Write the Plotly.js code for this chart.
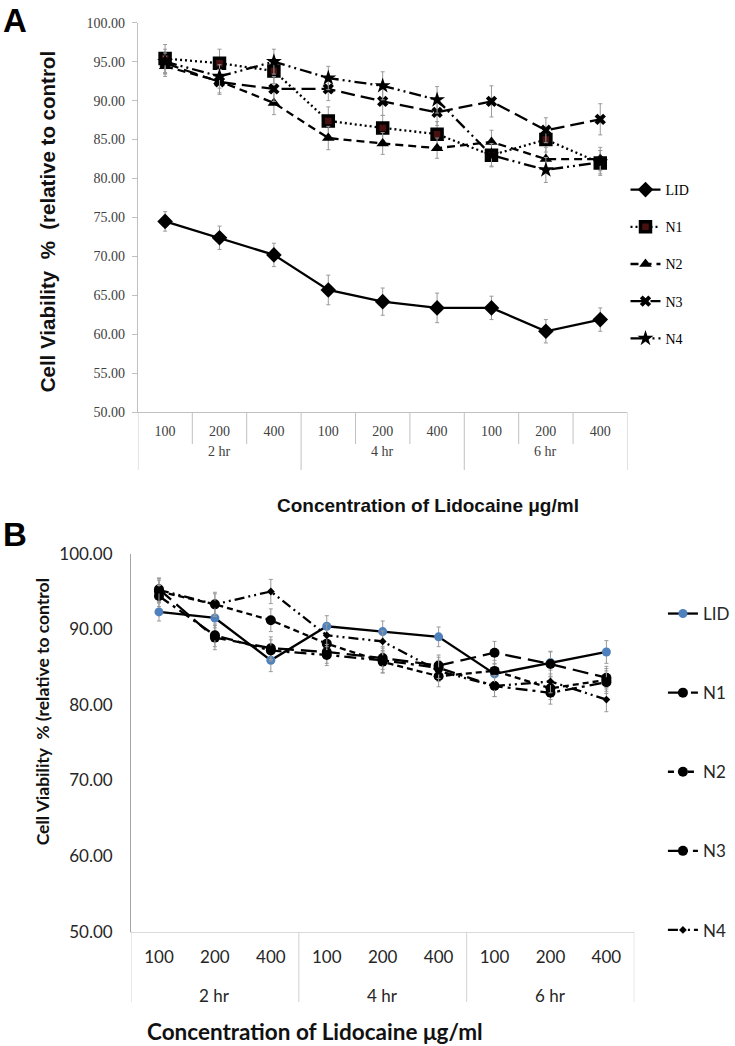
<!DOCTYPE html>
<html><head><meta charset="utf-8">
<script src="https://cdn.plot.ly/plotly-3.0.1.min.js"></script>
<style>html,body{margin:0;padding:0;background:#fff}#chart{width:735px;height:1046px}</style>
</head><body><div id="chart"></div>
<script>
// ---------- data ----------
const timeGroups = ['2 hr', '4 hr', '6 hr'];
const concentrations = ['100', '200', '400'];
const seriesNames = ['LID', 'N1', 'N2', 'N3', 'N4'];

// Panel A values (% viability)
const A_LID = [74.5, 72.4, 70.2, 65.7, 64.2, 63.4, 63.4, 60.4, 61.9];
const A_N1  = [95.4, 94.8, 93.8, 87.4, 86.5, 85.7, 83.0, 85.0, 82.0];
const A_N2  = [94.4, 92.5, 89.7, 85.2, 84.5, 83.9, 84.7, 82.5, 82.5];
const A_N3  = [94.8, 92.4, 91.5, 91.5, 89.9, 88.5, 89.9, 86.2, 87.6];
const A_N4  = [95.0, 93.1, 95.0, 92.9, 91.9, 90.1, 83.0, 81.1, 82.1];
// Panel A error bars
const A_LID_err = [1.25, 1.5, 1.5, 1.9, 1.75, 1.9, 1.5, 1.5, 1.5];
const A_N1_err  = [1.8, 1.8, 1.6, 1.8, 1.6, 1.6, 1.4, 1.6, 1.6];
const A_N2_err  = [1.3, 1.5, 1.5, 1.5, 1.4, 1.3, 1.5, 1.5, 1.5];
const A_N3_err  = [1.3, 1.6, 1.6, 1.5, 1.8, 1.7, 2.0, 1.6, 2.0];
const A_N4_err  = [1.6, 1.5, 1.6, 1.5, 1.8, 1.7, 1.5, 1.6, 1.5];

// Panel B values
const B_LID = [92.3, 91.5, 85.9, 90.4, 89.7, 89.0, 84.1, 85.6, 87.0];
const B_N1  = [95.3, 88.9, 87.5, 87.0, 86.2, 85.2, 86.9, 85.4, 83.6];
const B_N2  = [95.0, 93.3, 91.2, 88.1, 85.7, 83.8, 84.5, 82.2, 83.3];
const B_N3  = [94.4, 89.2, 87.2, 86.6, 85.9, 84.9, 82.5, 81.6, 83.0];
const B_N4  = [95.2, 93.3, 95.0, 89.2, 88.4, 84.5, 82.5, 83.1, 80.7];
// Panel B error bars
const B_LID_err = [1.2, 1.3, 1.5, 1.4, 1.4, 1.3, 1.4, 1.5, 1.5];
const B_N1_err  = [1.5, 1.6, 1.5, 1.5, 1.5, 1.4, 1.5, 1.6, 1.5];
const B_N2_err  = [1.5, 1.6, 1.5, 1.4, 1.5, 1.4, 1.4, 1.5, 1.5];
const B_N3_err  = [1.4, 1.5, 1.4, 1.4, 1.6, 1.4, 1.4, 1.5, 1.5];
const B_N4_err  = [1.5, 1.4, 1.6, 1.5, 1.4, 1.4, 1.4, 1.5, 1.6];

// ---------- helpers ----------
const W = 735, H = 1046;
const px = p => p / W;
const py = p => 1 - p / H;

const lvlTime = [], lvlConc = [];
timeGroups.forEach(g => concentrations.forEach(c => { lvlTime.push(g); lvlConc.push(c); }));
const catKeys = lvlTime.map((g, i) => g + ' · ' + lvlConc[i]);

const errStyle = (arr, w) => ({type: 'data', array: arr, visible: true, color: '#9a9a9a', thickness: 1, width: w});

function trA(name, y, err, dash, marker) {
  return {type: 'scatter', mode: 'lines+markers', name: name, x: catKeys, y: y,
    xaxis: 'x', yaxis: 'y', legend: 'legend', legendgroup: 'A' + name,
    line: {color: '#000', width: 2.3, dash: dash}, marker: marker,
    error_y: errStyle(err, 2), cliponaxis: false};
}
function trB(name, y, err, dash, marker) {
  return {type: 'scatter', mode: 'lines+markers', name: name, x: catKeys, y: y,
    xaxis: 'x2', yaxis: 'y2', legend: 'legend2', legendgroup: 'B' + name,
    line: {color: '#000', width: 2.3, dash: dash}, marker: marker,
    error_y: errStyle(err, 2), cliponaxis: false};
}

const dataA = [
  trA(seriesNames[0], A_LID, A_LID_err, 'solid', {symbol: 'diamond', size: 12, color: '#000'}),
  trA(seriesNames[1], A_N1, A_N1_err, '2px,3px', {symbol: 'square', size: 10, color: '#4a1010', line: {color: '#000', width: 3.5}}),
  trA(seriesNames[2], A_N2, A_N2_err, '8px,5px', {symbol: 'triangle-up', size: 11, color: '#000'}),
  trA(seriesNames[3], A_N3, A_N3_err, '14px,6px', {symbol: 'x', size: 10, color: '#000'}),
  trA(seriesNames[4], A_N4, A_N4_err, '12px,4px,2px,4px,2px,4px', {symbol: 'star', size: 12, color: '#000'})
];
const dataB = [
  trB(seriesNames[0], B_LID, B_LID_err, 'solid', {symbol: 'circle', size: 9, color: '#4f81bd'}),
  trB(seriesNames[1], B_N1, B_N1_err, '16px,7px', {symbol: 'circle', size: 10, color: '#000'}),
  trB(seriesNames[2], B_N2, B_N2_err, '6px,4px', {symbol: 'circle', size: 10, color: '#000'}),
  trB(seriesNames[3], B_N3, B_N3_err, '12px,5px,3px,5px', {symbol: 'circle', size: 10, color: '#000'}),
  trB(seriesNames[4], B_N4, B_N4_err, '10px,4px,2px,4px,2px,4px', {symbol: 'diamond', size: 6, color: '#000'})
];

const serif = 'Liberation Serif, Times New Roman, serif';
const arial = 'Liberation Sans, Arial, sans-serif';
const cal = 'Lato, Carlito, Calibri, sans-serif';

// panel geometry (pixels)
const A_box = {l: 140, r: 637, t: 22.7, b: 412.3};
const B_box = {l: 133, r: 644, t: 553.7, b: 931.7};

// category-axis dividers (boundaries between categories / groups)
const shapes = [];
for (let i = 0; i <= catKeys.length; i++) {
  const isGroup = i % concentrations.length === 0;
  shapes.push({type: 'line', xref: 'x', yref: 'paper', x0: i - 0.5, x1: i - 0.5,
    y0: py(A_box.b), y1: py(isGroup ? 470 : 444), line: {color: '#c0c0c0', width: 1}});
  if (isGroup) {
    shapes.push({type: 'line', xref: 'x2', yref: 'paper', x0: i - 0.5, x1: i - 0.5,
      y0: py(B_box.b), y1: py(1002), line: {color: '#d9d9d9', width: 1.2}});
  }
}

const annotations = [
  {text: '<b>A</b>', xref: 'paper', yref: 'paper', x: px(1), y: py(20), xanchor: 'left', yanchor: 'middle',
   showarrow: false, font: {family: arial, size: 33, color: '#000'}},
  {text: '<b>B</b>', xref: 'paper', yref: 'paper', x: px(1), y: py(534), xanchor: 'left', yanchor: 'middle',
   showarrow: false, font: {family: arial, size: 33, color: '#000'}},
  {text: '<b>Cell Viability  %  (relative to control</b>', xref: 'paper', yref: 'paper', x: px(48), y: py(222),
   xanchor: 'center', yanchor: 'middle', textangle: -90, showarrow: false,
   font: {family: arial, size: 20.5, color: '#111'}},
  {text: '<b>Concentration of Lidocaine μg/ml</b>', xref: 'paper', yref: 'paper', x: px(434), y: py(506),
   xanchor: 'center', yanchor: 'middle', showarrow: false, font: {family: arial, size: 19, color: '#111'}},
  {text: '<b>Cell Viability  % (relative to control</b>', xref: 'paper', yref: 'paper', x: px(43), y: py(712),
   xanchor: 'center', yanchor: 'middle', textangle: -90, showarrow: false,
   font: {family: cal, size: 17.5, color: '#111'}},
  {text: '<b>Concentration of Lidocaine μg/ml</b>', xref: 'paper', yref: 'paper', x: px(320), y: py(1031),
   xanchor: 'center', yanchor: 'middle', showarrow: false, font: {family: cal, size: 22.5, color: '#111'}}
];
// time-group labels (second level of the category axis)
timeGroups.forEach((g, gi) => {
  const mid = catKeys[gi * concentrations.length + 1];
  annotations.push({text: g, xref: 'x', yref: 'paper', x: mid, y: py(452), xanchor: 'center', yanchor: 'middle',
    showarrow: false, font: {family: serif, size: 14, color: '#404040'}});
  annotations.push({text: g, xref: 'x2', yref: 'paper', x: mid, y: py(995), xanchor: 'center', yanchor: 'middle',
    showarrow: false, font: {family: cal, size: 17, color: '#262626'}});
});

const layout = {
  width: W, height: H,
  margin: {l: 0, r: 0, t: 0, b: 0},
  paper_bgcolor: '#fff', plot_bgcolor: 'rgba(0,0,0,0)',
  showlegend: true,
  xaxis: {
    domain: [px(A_box.l), px(A_box.r)], anchor: 'y', type: 'category',
    categoryorder: 'array', categoryarray: catKeys, range: [-0.5, catKeys.length - 0.5],
    tickmode: 'array', tickvals: catKeys, ticktext: lvlConc,
    showline: true, linecolor: '#c0c0c0', linewidth: 1, ticks: '',
    tickfont: {family: serif, size: 14, color: '#404040'}, ticklabelstandoff: 6,
    showgrid: false, zeroline: false
  },
  yaxis: {
    domain: [py(A_box.b), py(A_box.t)], anchor: 'x', range: [50, 100], dtick: 5, tick0: 50,
    tickformat: '.2f', ticks: 'outside', ticklen: 5, tickcolor: '#c0c0c0',
    showline: true, linecolor: '#c0c0c0', linewidth: 1,
    tickfont: {family: serif, size: 14, color: '#404040'},
    showgrid: false, zeroline: false, ticklabelstandoff: 4
  },
  xaxis2: {
    domain: [px(B_box.l), px(B_box.r)], anchor: 'y2', type: 'category',
    categoryorder: 'array', categoryarray: catKeys, range: [-0.5, catKeys.length - 0.5],
    tickmode: 'array', tickvals: catKeys, ticktext: lvlConc,
    showline: true, linecolor: '#d9d9d9', linewidth: 1.2, ticks: '',
    tickfont: {family: cal, size: 17, color: '#262626'}, ticklabelstandoff: 10,
    showgrid: false, zeroline: false
  },
  yaxis2: {
    domain: [py(B_box.b), py(B_box.t)], anchor: 'x2', range: [50, 100], dtick: 10, tick0: 50,
    tickformat: '.2f', ticks: '',
    showline: true, linecolor: '#a6a6a6', linewidth: 1,
    tickfont: {family: cal, size: 17, color: '#262626'},
    showgrid: false, zeroline: false, ticklabelstandoff: 14
  },
  legend: {
    x: px(635), xanchor: 'left', y: py(174), yanchor: 'top',
    traceorder: 'grouped', tracegroupgap: 16, itemwidth: 30,
    font: {family: serif, size: 14, color: '#000'}, bgcolor: 'rgba(0,0,0,0)'
  },
  legend2: {
    x: px(673), xanchor: 'left', y: py(596), yanchor: 'top',
    traceorder: 'grouped', tracegroupgap: 54, itemwidth: 30,
    font: {family: cal, size: 17, color: '#262626'}, bgcolor: 'rgba(0,0,0,0)'
  },
  shapes: shapes,
  annotations: annotations
};

Plotly.newPlot('chart', dataA.concat(dataB), layout, {displayModeBar: false, staticPlot: true});
</script>
</body></html>
